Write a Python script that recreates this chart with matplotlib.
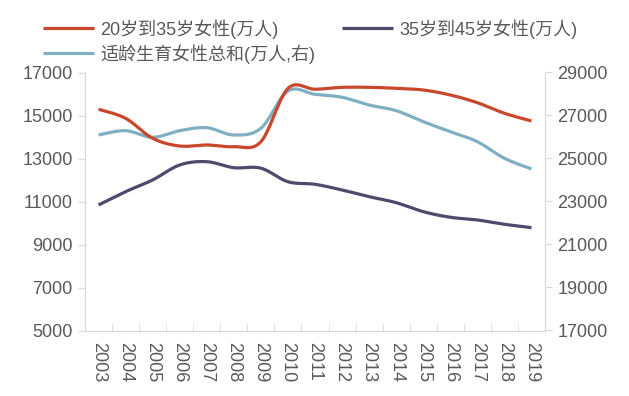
import matplotlib
matplotlib.use("Agg")
import matplotlib.pyplot as plt
import numpy as np

plt.rcParams['font.family'] = ['Liberation Sans', 'Noto Sans CJK SC', 'DejaVu Sans']

years = [str(y) for y in range(2003, 2020)]
women_20_35 = [15290, 14870, 13940, 13580, 13630, 13550, 13780, 16260, 16220, 16310,
               16310, 16265, 16186, 15954, 15596, 15103, 14745]
women_35_45 = [10840, 11457, 12001, 12699, 12852, 12573, 12550, 11920, 11800, 11536,
               11225, 10946, 10527, 10267, 10141, 9941, 9783]
women_total = [26094, 26294, 25987, 26294, 26433, 26094, 26405, 28140, 27986, 27847,
               27489, 27224, 26712, 26247, 25782, 25010, 24513]

label_a = '20岁到35岁女性(万人)'
label_b = '35岁到45岁女性(万人)'
label_c = '适龄生育女性总和(万人,右)'

c_red = '#c9472b'
c_dark = '#4f4a6c'
c_blue = '#80afc3'
txt = '#595959'
spine_c = '#d9d9d9'


def smooth(xs, ys, n=20):
    # excel-like smoothed line (catmull-rom bezier through the points)
    xs = np.asarray(xs, float)
    ys = np.asarray(ys, float)
    px = np.concatenate([[xs[0]], xs, [xs[-1]]])
    py = np.concatenate([[ys[0]], ys, [ys[-1]]])
    ox, oy = [], []
    t = np.linspace(0, 1, n, endpoint=False)
    for i in range(1, len(px) - 2):
        p0 = np.array([px[i], py[i]])
        p3 = np.array([px[i + 1], py[i + 1]])
        c1 = p0 + (p3 - np.array([px[i - 1], py[i - 1]])) / 6
        c2 = p3 - (np.array([px[i + 2], py[i + 2]]) - p0) / 6
        b = ((1 - t) ** 3)[:, None] * p0 + (3 * (1 - t) ** 2 * t)[:, None] * c1 \
            + (3 * (1 - t) * t ** 2)[:, None] * c2 + (t ** 3)[:, None] * p3
        ox.extend(b[:, 0])
        oy.extend(b[:, 1])
    ox.append(xs[-1])
    oy.append(ys[-1])
    return ox, oy


x = np.arange(len(years))

fig = plt.figure(figsize=(6.29, 3.96), dpi=100)
ax = fig.add_axes([85 / 629, 1 - 330.5 / 396, 460 / 629, 258 / 396])
ax2 = ax.twinx()

sx, sy = smooth(x, women_20_35)
l1, = ax.plot(sx, sy, color=c_red, lw=2.3, label=label_a, solid_capstyle='butt')
sx, sy = smooth(x, women_35_45)
l2, = ax.plot(sx, sy, color=c_dark, lw=2.3, label=label_b, solid_capstyle='butt')
sx, sy = smooth(x, women_total)
l3, = ax2.plot(sx, sy, color=c_blue, lw=2.3, label=label_c, solid_capstyle='butt')
ax.set_zorder(ax2.get_zorder() + 1)
ax.patch.set_visible(False)

ax.set_xlim(-0.5, len(years) - 0.5)
ax.set_ylim(5000, 17000)
ax2.set_ylim(17000, 29000)
ax.set_yticks(np.arange(5000, 17001, 2000))
ax2.set_yticks(np.arange(17000, 29001, 2000))

ax.set_xticks(x)
ax.set_xticklabels(years, rotation=-90, fontsize=13, color=txt)
ax.set_xticks(np.arange(-0.5, len(years), 1), minor=True)
ax.tick_params(axis='x', which='major', length=0, pad=8)
ax.tick_params(axis='x', which='minor', direction='in', length=5, color=spine_c)
ax.tick_params(axis='y', length=5, color=spine_c, labelsize=13, labelcolor=txt, pad=4)
ax2.tick_params(axis='y', length=5, color=spine_c, labelsize=13, labelcolor=txt, pad=4)

for a in (ax, ax2):
    a.spines['top'].set_visible(False)
    for s in ('left', 'right', 'bottom'):
        a.spines[s].set_color(spine_c)

# column-first fill: l1 & l3 in the first column, l2 in the second
fig.legend(handles=[l1, l3, l2], loc='upper left', bbox_to_anchor=(34 / 629, 1 - 10 / 396),
           ncol=2, frameon=False, fontsize=13, labelcolor=txt, handlelength=2.8,
           handletextpad=0.35, columnspacing=1.5, borderpad=0, labelspacing=0.3)

fig.savefig('out.png', dpi=100)
